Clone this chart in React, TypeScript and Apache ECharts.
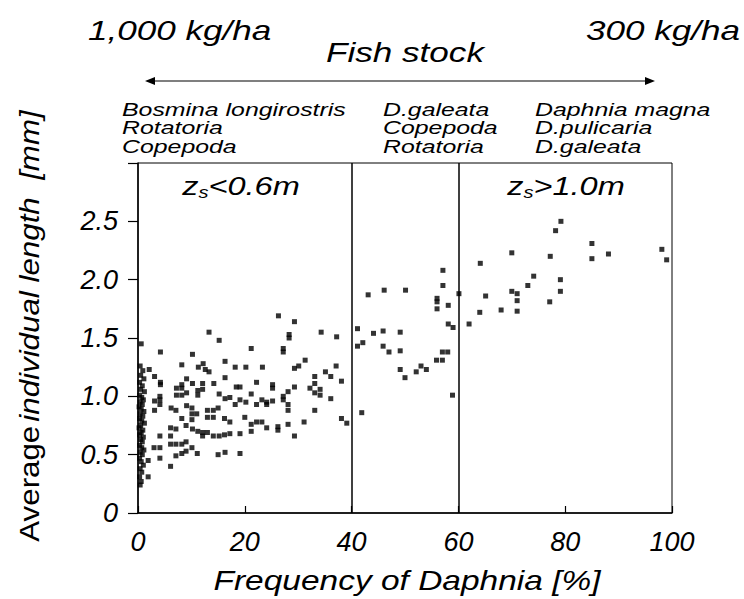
import React, { useEffect, useRef } from "react";
import * as echarts from "echarts";

// Daphnia frequency [%] vs. average individual length [mm]
// Dense cluster of samples with almost no Daphnia
const zeroColumn: [number, number][] = [
  [0.6, 1.45], [0.4, 1.26], [0.9, 1.22], [0.5, 1.18], [1.1, 1.15], [0.3, 1.12],
  [0.8, 1.09], [0.5, 1.06], [1.2, 1.04], [0.3, 1.01], [0.7, 0.99], [1.0, 0.97],
  [0.4, 0.95], [0.8, 0.93], [0.2, 0.91], [0.6, 0.89], [1.1, 0.87], [0.4, 0.85],
  [0.9, 0.83], [0.3, 0.81], [0.7, 0.79], [1.2, 0.77], [0.5, 0.75], [0.2, 0.73],
  [0.9, 0.71], [0.6, 0.69], [0.3, 0.67], [1.0, 0.65], [0.5, 0.63], [0.8, 0.61],
  [0.3, 0.58], [0.7, 0.56], [1.1, 0.54], [0.4, 0.52], [0.8, 0.5], [0.3, 0.47],
  [0.6, 0.44], [1.0, 0.41], [0.4, 0.38], [0.7, 0.35], [0.3, 0.31], [0.6, 0.27],
  [0.4, 0.24],
];

// Turbid lakes (z_s < 0.6 m), Daphnia below 40 %
const lowZone: [number, number][] = [
  [13.3, 1.55], [15.2, 1.48], [4.2, 1.38], [10.2, 1.36], [16.3, 1.3], [8.2, 1.27],
  [12.2, 1.28], [11.3, 1.25], [12.6, 1.23], [13.3, 1.21], [18.2, 1.25], [20.2, 1.25],
  [2.1, 1.23], [3.1, 1.17], [4.2, 1.12], [4.2, 1.1], [9.1, 1.15], [8.2, 1.1],
  [8.2, 1.07], [10.2, 1.11], [12.1, 1.11], [14.2, 1.11], [16.3, 1.16], [18.4, 1.08],
  [19.1, 1.08], [7.2, 1.07], [7.2, 1.01], [8.2, 1.01], [9.1, 1.03], [11.2, 1.05],
  [11.2, 1.01], [12.1, 1.06], [15.2, 1.02], [16.3, 0.98], [17.2, 0.99], [4.1, 1.0],
  [4.1, 0.97], [3.1, 0.96], [3.1, 0.88], [4.1, 0.93], [19.1, 0.97], [20.2, 0.95],
  [6.2, 0.9], [7.1, 0.88], [9.1, 0.92], [10.1, 0.9], [10.1, 0.85], [10.1, 0.8],
  [11.0, 0.85], [8.2, 0.81], [13.0, 0.88], [14.1, 0.88], [15.0, 0.9], [13.0, 0.82],
  [14.1, 0.82], [16.2, 0.81], [17.2, 0.78], [18.2, 0.93], [20.0, 0.82], [6.1, 0.73],
  [7.1, 0.72], [9.0, 0.75], [10.2, 0.72], [11.2, 0.7], [12.1, 0.66], [12.1, 0.69],
  [13.0, 0.69], [14.1, 0.66], [15.2, 0.66], [16.2, 0.67], [17.2, 0.68], [19.1, 0.68],
  [4.1, 0.66], [6.1, 0.66], [6.1, 0.59], [7.1, 0.59], [8.2, 0.59], [9.0, 0.61],
  [10.1, 0.56], [3.0, 0.56], [4.1, 0.56], [7.1, 0.49], [8.2, 0.51], [9.0, 0.53],
  [11.1, 0.51], [15.0, 0.5], [16.3, 0.52], [19.1, 0.51], [1.9, 0.45], [4.1, 0.47],
  [6.1, 0.4], [1.9, 0.31],
  [26.3, 1.69], [29.3, 1.64], [28.3, 1.53], [28.3, 1.5], [34.3, 1.55], [37.2, 1.51],
  [21.2, 1.41], [27.2, 1.41], [27.2, 1.38], [31.3, 1.31], [30.1, 1.26], [29.3, 1.24],
  [23.3, 1.25], [37.1, 1.26], [35.1, 1.21], [33.1, 1.17], [36.1, 1.17], [38.1, 1.13],
  [22.2, 1.12], [25.2, 1.1], [25.2, 1.07], [29.3, 1.08], [28.1, 1.04], [33.1, 1.11],
  [32.2, 1.07], [33.1, 1.03], [34.1, 1.06], [34.1, 1.01], [27.2, 1.0], [27.2, 0.97],
  [21.2, 1.02], [36.1, 0.98], [22.2, 0.93], [23.2, 0.97], [24.1, 0.95], [24.1, 0.93],
  [25.2, 0.96], [28.1, 0.93], [28.1, 0.88], [33.1, 0.88], [21.2, 0.76], [22.2, 0.78],
  [23.2, 0.78], [21.2, 0.7], [24.1, 0.73], [26.2, 0.74], [26.2, 0.71], [28.1, 0.76],
  [31.1, 0.78], [29.3, 0.66], [38.1, 0.81], [39.1, 0.77],
];

// Intermediate lakes, Daphnia 40–60 %
const midZone: [number, number][] = [
  [57.1, 2.08], [57.1, 1.95], [43.1, 1.87], [46.1, 1.91], [50.1, 1.91], [56.0, 1.84],
  [56.0, 1.81], [58.1, 1.78], [56.0, 1.75], [41.1, 1.58], [45.9, 1.56], [44.1, 1.54],
  [49.1, 1.55], [58.1, 1.62], [59.0, 1.59], [41.1, 1.43], [42.1, 1.46], [45.9, 1.43],
  [47.0, 1.38], [49.1, 1.39], [57.0, 1.38], [58.0, 1.38], [55.9, 1.31], [57.0, 1.31],
  [49.1, 1.23], [50.0, 1.16], [52.1, 1.21], [53.0, 1.26], [54.0, 1.23], [58.9, 1.01],
  [41.9, 0.86],
];

// Clear lakes (z_s > 1.0 m), Daphnia above 60 %
const highZone: [number, number][] = [
  [60.1, 1.88], [62.0, 1.62], [79.2, 2.5], [78.2, 2.42], [85.0, 2.31], [70.0, 2.23],
  [77.2, 2.2], [85.0, 2.18], [88.1, 2.22], [98.1, 2.26], [99.0, 2.17], [64.1, 2.14],
  [74.1, 2.03], [73.0, 1.95], [79.1, 2.0], [79.1, 1.9], [70.0, 1.9], [71.0, 1.88],
  [65.1, 1.86], [71.0, 1.82], [77.1, 1.81], [64.0, 1.72], [68.0, 1.74], [71.0, 1.73],
];

const zoneBounds = [40, 60];

const leftTaxa = ["Bosmina longirostris", "Rotatoria", "Copepoda"];
const midTaxa = ["D.galeata", "Copepoda", "Rotatoria"];
const rightTaxa = ["Daphnia magna", "D.pulicaria", "D.galeata"];

const FONT = '"Liberation Sans", Arial, sans-serif';
const INK = "#000";

function taxaColumn(lines: string[], left: number) {
  return lines.map((t, i) => ({
    type: "text",
    x: left,
    y: 110 + i * 18.5,
    scaleX: 1.42,
    style: {
      text: t,
      fontSize: 17.5,
      fontStyle: "italic",
      fontFamily: FONT,
      fill: INK,
      align: "left",
      verticalAlign: "middle",
    },
  }));
}

function headText(text: string, x: number, y: number, align: string) {
  return {
    type: "text",
    x,
    y,
    scaleX: 1.3,
    style: { text, fontSize: 27, fontStyle: "italic", fontFamily: FONT, fill: INK, align, verticalAlign: "middle" },
  };
}

const zRich = {
  i: { fontSize: 26, fontStyle: "italic", fontFamily: FONT, color: INK, lineHeight: 30 },
  s: { fontSize: 16, fontStyle: "italic", fontFamily: FONT, color: INK, verticalAlign: "bottom", lineHeight: 16 },
};

export default function App() {
  const ref = useRef<HTMLDivElement>(null);

  useEffect(() => {
    if (!ref.current) return;
    const chart = echarts.init(ref.current, null, { renderer: "svg" });
    const axisFont = { fontSize: 27, fontStyle: "italic", fontFamily: FONT, color: INK };

    chart.setOption({
      animation: false,
      backgroundColor: "#fff",
      grid: {
        left: 138,
        right: 72,
        top: 163,
        bottom: 86,
        show: true,
        borderColor: INK,
        borderWidth: 1,
        backgroundColor: "transparent",
      },
      xAxis: {
        type: "value",
        min: 0,
        max: 100,
        interval: 20,
        axisLine: { show: true, lineStyle: { color: INK, width: 1.5 } },
        axisTick: { show: true, inside: true, length: 7, lineStyle: { color: INK, width: 1.2 } },
        axisLabel: { ...axisFont, margin: 15 },
        splitLine: { show: false },
      },
      yAxis: {
        type: "value",
        min: 0,
        max: 3,
        interval: 0.5,
        axisLine: { show: true, lineStyle: { color: INK, width: 1.5 } },
        axisTick: { show: true, inside: false, length: 10, lineStyle: { color: INK, width: 1.2 } },
        axisLabel: {
          ...axisFont,
          margin: 20,
          formatter: (v: number) => (v >= 3 ? "" : v === 0 ? "0" : v.toFixed(1)),
        },
        splitLine: { show: false },
      },
      series: [
        {
          type: "scatter",
          symbol: "rect",
          symbolSize: 5,
          itemStyle: { color: INK },
          data: [...zeroColumn, ...lowZone, ...midZone, ...highZone],
          markLine: {
            silent: true,
            symbol: "none",
            label: { show: false },
            lineStyle: { color: INK, width: 1.5, type: "solid" },
            data: zoneBounds.map((b) => ({ xAxis: b })),
          },
        },
      ],
      graphic: [
        // axis titles
        {
          type: "text",
          x: 407,
          y: 580,
          scaleX: 1.24,
          style: {
            text: "Frequency of Daphnia [%]",
            fontSize: 27,
            fontStyle: "italic",
            fontFamily: FONT,
            fill: INK,
            align: "center",
            verticalAlign: "middle",
          },
        },
        {
          type: "text",
          x: 30,
          y: 326,
          rotation: Math.PI / 2,
          scaleX: 1.16,
          style: {
            text: "{a|Average} {b|individual length  [mm]}",
            align: "center",
            verticalAlign: "middle",
            rich: {
              a: { fontSize: 27, fontFamily: FONT, color: INK },
              b: { fontSize: 27, fontStyle: "italic", fontFamily: FONT, color: INK },
            },
          },
        },
        // fish stock gradient
        headText("1,000 kg/ha", 88, 31, "left"),
        headText("300 kg/ha", 740, 31, "right"),
        headText("Fish stock", 405, 53, "center"),
        {
          type: "line",
          shape: { x1: 152, y1: 81, x2: 648, y2: 81 },
          style: { stroke: INK, lineWidth: 1.2 },
        },
        {
          type: "polygon",
          shape: { points: [[145, 81], [155, 77], [155, 85]] },
          style: { fill: INK },
        },
        {
          type: "polygon",
          shape: { points: [[655, 81], [645, 77], [645, 85]] },
          style: { fill: INK },
        },
        // dominant zooplankton
        ...taxaColumn(leftTaxa, 122),
        ...taxaColumn(midTaxa, 383),
        ...taxaColumn(rightTaxa, 535),
        // Secchi depth zones
        {
          type: "text",
          x: 241,
          y: 186,
          scaleX: 1.25,
          style: { text: "{i|z}{s|s}{i|<0.6m}", rich: zRich, align: "center", verticalAlign: "middle" },
        },
        {
          type: "text",
          x: 566,
          y: 186,
          scaleX: 1.25,
          style: { text: "{i|z}{s|s}{i|>1.0m}", rich: zRich, align: "center", verticalAlign: "middle" },
        },
      ],
    });

    return () => chart.dispose();
  }, []);

  return (
    <div
      ref={ref}
      style={{ position: "fixed", left: 0, top: 0, width: 744, height: 599, background: "#fff" }}
    />
  );
}
